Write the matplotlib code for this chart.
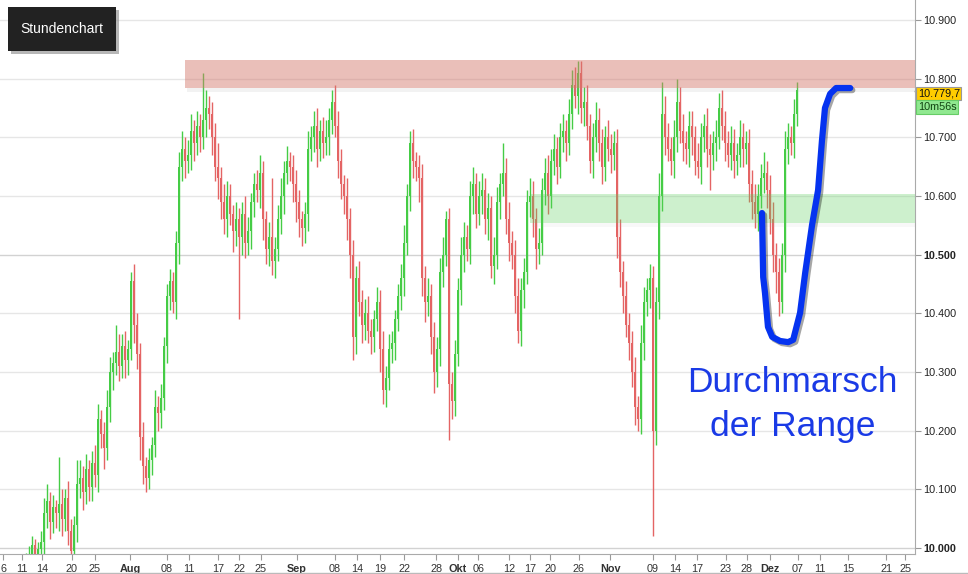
import numpy as np
import matplotlib.pyplot as plt
from matplotlib.patches import Rectangle
import matplotlib.patheffects as pe

plt.rcParams['font.family'] = ['Liberation Sans', 'DejaVu Sans']

# hourly closes (index points), one bar every ~ few hours, Jul -> Dez
closes = [
    9940, 9955, 9948, 9962, 9970, 9958, 9975, 9968, 9980, 9985,
    10005, 9990, 9998, 10010, 10060, 10080, 10045, 10070, 10060, 10075,
    10050, 10085, 10030, 9995, 10040, 10110, 10120, 10095, 10135, 10105,
    10145, 10125, 10220, 10195, 10170, 10240, 10300, 10315, 10335, 10310,
    10345, 10320, 10340, 10455, 10380, 10330, 10190, 10140, 10120, 10150,
    10175, 10240, 10230, 10255, 10345, 10430, 10455, 10420, 10520, 10650,
    10680, 10660, 10670, 10710, 10690, 10720, 10700, 10730, 10750, 10740,
    10700, 10650, 10630, 10590, 10560, 10600, 10570, 10540, 10560, 10530,
    10570, 10520, 10540, 10590, 10620, 10610, 10640, 10560, 10510, 10530,
    10490, 10510, 10560, 10600, 10640, 10660, 10650, 10620, 10590, 10560,
    10545, 10570, 10680, 10700, 10720, 10680, 10710, 10690, 10700, 10730,
    10760, 10720, 10660, 10620, 10600, 10560, 10500, 10360, 10460, 10420,
    10380, 10400, 10370, 10360, 10390, 10420, 10340, 10270, 10290, 10340,
    10350, 10390, 10430, 10460, 10520, 10600, 10690, 10660, 10650, 10630,
    10460, 10420, 10430, 10360, 10300, 10340, 10470, 10500, 10560, 10280,
    10250, 10330, 10440, 10500, 10530, 10510, 10600, 10620, 10570, 10600,
    10610, 10560, 10580, 10480, 10500, 10590, 10620, 10640, 10560, 10520,
    10500, 10430, 10370, 10440, 10470, 10590, 10600, 10560, 10510, 10520,
    10610, 10640, 10600, 10660, 10680, 10650, 10700, 10710, 10690, 10740,
    10790, 10770, 10810, 10750, 10760, 10720, 10660, 10700, 10730, 10690,
    10650, 10700, 10680, 10670, 10690, 10530, 10470, 10430, 10380, 10350,
    10300, 10240, 10220, 10350, 10420, 10440, 10460, 10200, 10420, 10600,
    10740, 10700, 10680, 10660, 10700, 10760, 10710, 10690, 10680, 10720,
    10700, 10660, 10650, 10700, 10720, 10680, 10670, 10690, 10700, 10750,
    10720, 10690, 10670, 10690, 10660, 10670, 10700, 10680, 10690, 10620,
    10590, 10570, 10600, 10630, 10640, 10610, 10560, 10500, 10470, 10420,
    10500, 10680, 10700, 10690, 10740, 10780,
]
# upper / lower wick lengths in points
upper_wick = [
    10, 15, 12, 8, 20, 10, 14, 9, 12, 18,
    15, 10, 12, 20, 25, 30, 15, 20, 12, 80,
    25, 15, 30, 20, 15, 40, 30, 20, 25, 15,
    20, 30, 25, 15, 20, 30, 25, 20, 45, 30,
    20, 25, 15, 15, 30, 20, 20, 25, 15, 20,
    15, 30, 20, 25, 15, 20, 20, 15, 20, 25,
    30, 20, 25, 30, 20, 25, 20, 80, 30, 20,
    20, 25, 40, 20, 30, 25, 20, 15, 30, 20,
    20, 30, 25, 15, 20, 25, 30, 20, 15, 25,
    100, 20, 25, 30, 20, 25, 15, 20, 25, 20,
    15, 20, 30, 20, 25, 30, 20, 25, 30, 20,
    20, 30, 25, 20, 15, 30, 20, 25, 20, 30,
    20, 25, 30, 20, 15, 25, 20, 30, 20, 25,
    20, 15, 20, 25, 30, 20, 20, 25, 15, 20,
    25, 20, 30, 20, 25, 20, 25, 30, 15, 20,
    20, 25, 20, 30, 25, 20, 25, 30, 20, 25,
    30, 20, 25, 20, 30, 25, 20, 50, 25, 30,
    20, 25, 30, 20, 25, 20, 30, 25, 20, 25,
    20, 25, 30, 20, 25, 20, 25, 30, 20, 25,
    25, 30, 20, 20, 25, 30, 20, 25, 30, 20,
    25, 20, 30, 25, 20, 25, 30, 20, 25, 20,
    20, 25, 20, 30, 25, 20, 25, 20, 25, 40,
    55, 30, 25, 20, 30, 40, 25, 30, 20, 25,
    25, 20, 30, 25, 20, 30, 25, 20, 30, 25,
    30, 25, 20, 30, 25, 20, 30, 25, 20, 25,
    25, 30, 20, 25, 35, 20, 25, 30, 20, 25,
    20, 30, 25, 20, 25, 15,
]
lower_wick = [
    15, 10, 20, 12, 15, 18, 10, 20, 15, 12,
    20, 15, 25, 30, 35, 25, 30, 20, 25, 30,
    30, 20, 25, 35, 20, 30, 25, 30, 20, 25,
    25, 20, 30, 25, 35, 20, 25, 30, 20, 25,
    20, 30, 25, 20, 30, 25, 40, 30, 25, 20,
    25, 20, 30, 25, 20, 30, 25, 20, 30, 35,
    25, 30, 20, 25, 30, 20, 25, 20, 30, 25,
    30, 25, 35, 30, 25, 30, 20, 35, 25, 140,
    30, 25, 20, 30, 25, 20, 30, 35, 25, 30,
    25, 30, 20, 25, 30, 20, 25, 30, 35, 30,
    30, 25, 30, 20, 25, 30, 20, 25, 20, 30,
    25, 20, 30, 25, 30, 35, 40, 40, 30, 25,
    30, 25, 20, 30, 25, 20, 40, 25, 30, 20,
    25, 30, 20, 25, 30, 20, 25, 30, 25, 40,
    30, 35, 25, 30, 35, 25, 30, 25, 20, 95,
    30, 25, 20, 25, 30, 20, 25, 30, 25, 20,
    30, 25, 35, 20, 30, 25, 30, 20, 25, 30,
    25, 30, 20, 25, 30, 20, 25, 30, 35, 25,
    20, 25, 30, 20, 25, 30, 20, 25, 30, 20,
    25, 20, 30, 25, 30, 25, 20, 30, 25, 30,
    30, 25, 20, 30, 25, 35, 25, 30, 20, 30,
    25, 30, 20, 25, 30, 25, 30, 180, 25, 30,
    25, 30, 20, 25, 30, 25, 20, 30, 25, 30,
    30, 25, 20, 30, 25, 30, 60, 25, 30, 20,
    25, 30, 20, 25, 30, 25, 20, 30, 25, 30,
    30, 25, 30, 20, 25, 30, 25, 30, 35, 25,
    20, 30, 25, 20, 25, 20,
]

# date labels and the bar where they sit
tick_labels = ['6', '11', '14', '20', '25', 'Aug', '08', '11', '17', '22', '25', 'Sep',
               '08', '14', '19', '22', '28', 'Okt', '06', '12', '17', '20', '26', 'Nov',
               '09', '14', '17', '23', '28', 'Dez', '07', '11', '15', '21', '25']
tick_bars = [0.4, 6.7, 13.3, 23.3, 31, 42.7, 55, 62.3, 72, 79, 86.3, 98.3,
             111, 118.3, 126, 134, 144.7, 152, 158.7, 169, 176, 182.7, 192.3, 202.7,
             217, 224.3, 231.7, 241.3, 248.3, 256, 265.3, 272.7, 282, 294.7, 301]
months = ['Aug', 'Sep', 'Okt', 'Nov', 'Dez']

resistance = (10784, 10832)
support = (10554, 10603)
last_price = 10779.7

# hand drawn arrow (bar, price)
path_bars = [253.3, 253.7, 254.3, 255.3, 256.7, 259.3, 262, 263.7, 266, 267.7, 270, 272, 273.3, 274.3, 276, 278, 282.7]
path_price = [10571, 10462, 10435, 10377, 10360, 10353, 10351, 10355, 10401, 10469, 10551, 10610, 10695, 10750, 10774, 10784, 10784]

GREEN = '#45cc45'
RED = '#e46464'

fig = plt.figure(figsize=(9.68, 5.74), dpi=100)
ax = fig.add_axes([0, 20/574, 915/968, 554/574])

n = len(closes)
idx = np.arange(n)
c = np.array(closes, dtype=float)
o = np.concatenate([[c[0]], c[:-1]])
hi = np.maximum(o, c) + np.array(upper_wick)
lo = np.minimum(o, c) - np.array(lower_wick)
cols = [GREEN if cc >= oo else RED for oo, cc in zip(o, c)]
body = np.maximum(np.abs(c - o), 4)

ax.vlines(idx, lo, hi, colors=cols, lw=1.0, zorder=2)
ax.bar(idx, body, bottom=np.minimum(o, c), width=0.7, color=cols, lw=0, zorder=2)

# zones (with a soft shadow strip underneath)
x0, x1 = -0.67, 304.3
ax.add_patch(Rectangle((61.5, resistance[0] - 7), x1 - 61.5, 7,
                       fc='#999999', alpha=0.12, lw=0, zorder=3))
ax.add_patch(Rectangle((61, resistance[0]), x1 - 61, resistance[1] - resistance[0],
                       fc='#d4796d', alpha=0.48, lw=0, zorder=3))
ax.add_patch(Rectangle((176.5, support[0] - 6), x1 - 176.5, 6,
                       fc='#aaaaaa', alpha=0.08, lw=0, zorder=3))
ax.add_patch(Rectangle((176, support[0]), x1 - 176, support[1] - support[0],
                       fc='#5cd05c', alpha=0.3, lw=0, zorder=3))

# arrow / annotation
ax.plot(path_bars, path_price, color='#0533f0', lw=4.5, solid_capstyle='round',
        solid_joinstyle='round', zorder=5,
        path_effects=[pe.SimpleLineShadow(offset=(1.5, -1.5), shadow_color='k', alpha=0.35),
                      pe.Normal()])
ax.text(263.3, 10266, 'Durchmarsch', color='#1a3ae6', fontsize=25.5,
        ha='center', va='baseline', zorder=6)
ax.text(263.6, 10191, 'der Range', color='#1a3ae6', fontsize=25.5,
        ha='center', va='baseline', zorder=6)

ax.set_xlim(x0, x1)
ax.set_ylim(9990, 10934)

yt = np.arange(10000, 10901, 100)
ax.yaxis.tick_right()
ax.set_yticks(yt)
ax.set_yticklabels([f'{v/1000:.3f}' for v in yt])
for v in yt:
    ax.axhline(v, color='#d2d2d2' if v in (10000, 10500) else '#e6e6e6', lw=1, zorder=0)
for t in ax.yaxis.get_major_ticks():
    if t.label2.get_text() in ('10.000', '10.500'):
        t.label2.set_fontweight('bold')

ax.set_xticks(tick_bars)
ax.set_xticklabels(tick_labels)
for lab in ax.get_xticklabels():
    if lab.get_text() in months:
        lab.set_fontweight('bold')

ax.tick_params(axis='y', length=4, color='#999999', labelsize=7.8, labelcolor='#222222', pad=2)
ax.tick_params(axis='x', length=4, color='#999999', labelsize=7.8, labelcolor='#333333', pad=3)
for s in ('left', 'top'):
    ax.spines[s].set_visible(False)
for s in ('right', 'bottom'):
    ax.spines[s].set_color('#aaaaaa')

# price tag on the right
ax.plot([1.0, 1.006], [last_price, last_price], color='k', lw=1,
        transform=ax.get_yaxis_transform(), clip_on=False)
ax.text(1.003, last_price - 5, '10.779,7', transform=ax.get_yaxis_transform(), fontsize=7.8,
        va='center', ha='left', color='#111111',
        bbox=dict(boxstyle='square,pad=0.15', fc='#ffcc00', ec='#999999', lw=0.8))
ax.text(1.003, last_price - 28, '10m56s', transform=ax.get_yaxis_transform(), fontsize=7.8,
        va='center', ha='left', color='#114411',
        bbox=dict(boxstyle='square,pad=0.15', fc='#90e890', ec='#66cc66', lw=0.8))

# title box
fig.add_artist(Rectangle((11/968, 1 - 54/574), 108/968, 44/574, transform=fig.transFigure,
                         fc='#888888', alpha=0.6, lw=0))
fig.add_artist(Rectangle((8/968, 1 - 51/574), 108/968, 44/574, transform=fig.transFigure,
                         fc='#222222', lw=0))
fig.text(62/968, 1 - 29/574, 'Stundenchart', color='white', fontsize=10,
         ha='center', va='center')

fig.add_artist(plt.Line2D([0, 1], [1.5/574, 1.5/574], color='#bbbbbb', lw=1,
                          transform=fig.transFigure))

fig.savefig('out.png', dpi=100)
